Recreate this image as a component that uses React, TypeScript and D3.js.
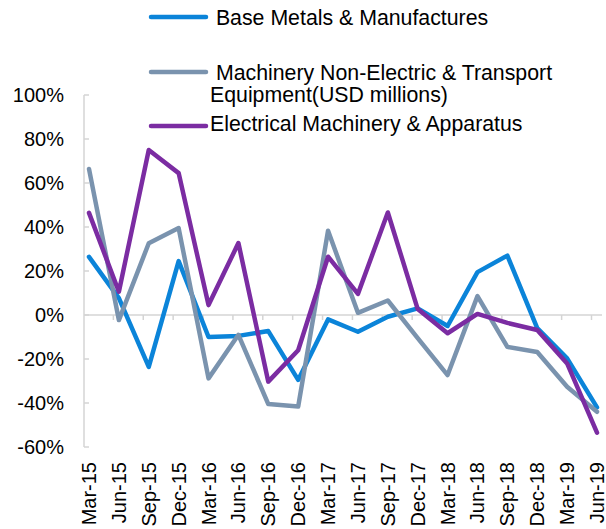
import * as d3 from 'd3';

const categories = [
  'Mar-15', 'Jun-15', 'Sep-15', 'Dec-15', 'Mar-16', 'Jun-16', 'Sep-16', 'Dec-16', 'Mar-17',
  'Jun-17', 'Sep-17', 'Dec-17', 'Mar-18', 'Jun-18', 'Sep-18', 'Dec-18', 'Mar-19', 'Jun-19',
];

const baseMetals = [26.4, 7.7, -23.6, 24.5, -10, -9.5, -7.3, -29.5, -2, -7.6, -0.8, 3, -5, 19.5, 27, -6, -19.7, -42];
const machinery = [66.4, -2.3, 32.6, 39.5, -28.8, -9, -40.5, -41.6, 38.3, 1, 6.6, -10.5, -27.3, 8.6, -14.5, -16.8, -32.6, -44];
const electrical = [46.4, 10.6, 75, 64.5, 4.5, 32.7, -30.3, -16, 26.5, 9.6, 46.6, 2.7, -8.3, 0.5, -3.6, -6.8, -22, -53.5];

const yTicks = [-60, -40, -20, 0, 20, 40, 60, 80, 100];

const series = [
  { name: ' Base Metals & Manufactures', values: baseMetals, color: '#0B84D9' },
  { name: ' Machinery Non-Electric & Transport', name2: 'Equipment(USD millions)', values: machinery, color: '#7A93AE' },
  { name: 'Electrical Machinery & Apparatus', values: electrical, color: '#7B2CA2' },
];

const width = 606;
const height = 529;
const font = '"Liberation Sans", Arial, sans-serif';
const axisColor = '#D4D4D4';

export default function App() {
  const x = d3.scalePoint<string>().domain(categories).range([89, 597]);
  const y = d3.scaleLinear().domain([-60, 100]).range([447, 95]);
  const axisX = 84;

  const line = d3
    .line<number>()
    .x((_, i) => x(categories[i]) as number)
    .y((d) => y(d));

  // legend rows
  const legend = [
    { lineY: 17, texts: [{ t: series[0].name, y: 25 }] },
    { lineY: 72, texts: [{ t: series[1].name, y: 80 }, { t: series[1].name2 as string, y: 102 }] },
    { lineY: 126, texts: [{ t: series[2].name, y: 131 }] },
  ];

  return (
    <div style={{ position: 'absolute', left: 0, top: 0 }}>
      <svg width={width} height={height} style={{ display: 'block', background: '#fff' }}>
        {/* y axis */}
        <line x1={axisX} x2={axisX} y1={y(100)} y2={y(-60)} stroke={axisColor} strokeWidth={1.5} />
        {yTicks.map((t) => (
          <g key={t}>
            <line x1={axisX} x2={axisX + 5} y1={y(t)} y2={y(t)} stroke={axisColor} strokeWidth={1.5} />
            <text
              x={64}
              y={y(t)}
              dy="0.35em"
              textAnchor="end"
              fontFamily={font}
              fontSize={20}
              fill="#000"
            >
              {t}%
            </text>
          </g>
        ))}

        {/* x axis at 0 */}
        <line x1={axisX} x2={602} y1={y(0)} y2={y(0)} stroke={axisColor} strokeWidth={1.5} />
        {categories.slice(1).map((c) => (
          <line
            key={c}
            x1={(x(c) as number) - 5.5}
            x2={(x(c) as number) - 5.5}
            y1={y(0)}
            y2={y(0) + 5}
            stroke={axisColor}
            strokeWidth={1.5}
          />
        ))}
        {categories.map((c) => (
          <text
            key={c}
            transform={`translate(${x(c)},462) rotate(-90)`}
            dy="0.35em"
            textAnchor="end"
            fontFamily={font}
            fontSize={20}
            fill="#000"
          >
            {c}
          </text>
        ))}

        {/* series */}
        {series.map((s) => (
          <path
            key={s.name}
            d={line(s.values) as string}
            fill="none"
            stroke={s.color}
            strokeWidth={4.5}
            strokeLinejoin="round"
            strokeLinecap="round"
          />
        ))}

        {/* legend */}
        {legend.map((l, i) => (
          <g key={i}>
            <line x1={151} x2={206} y1={l.lineY} y2={l.lineY} stroke={series[i].color} strokeWidth={4.5} strokeLinecap="round" />
            {l.texts.map((tx) => (
              <text key={tx.t} x={210} y={tx.y} fontFamily={font} fontSize={21.3} fill="#000" style={{ whiteSpace: 'pre' }}>
                {tx.t}
              </text>
            ))}
          </g>
        ))}
      </svg>
    </div>
  );
}
